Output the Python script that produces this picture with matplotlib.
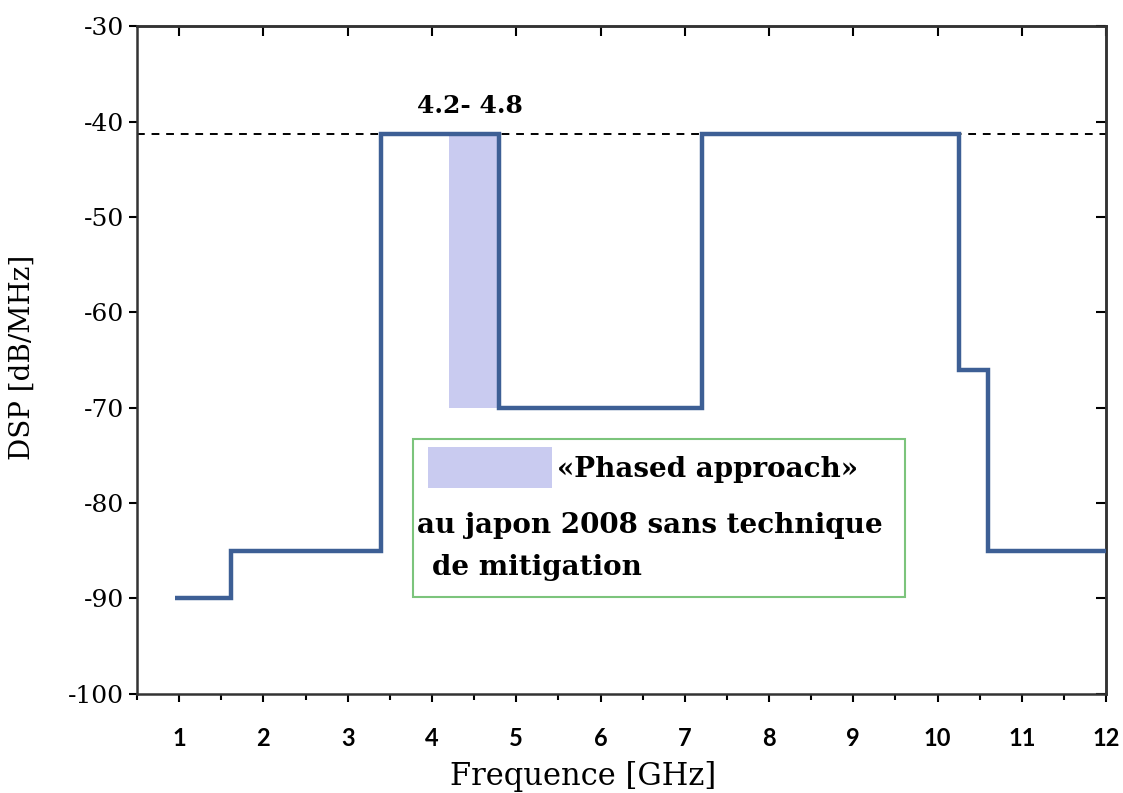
import numpy as np
import matplotlib.pyplot as plt
from matplotlib.patches import Rectangle
from matplotlib.ticker import MultipleLocator

plt.rcParams['axes.unicode_minus'] = False

# --- Spectral mask (Japan 2008, no mitigation) ---
edges = [0.95, 1.62, 3.4, 4.8, 7.2, 10.25, 10.6, 12.0]   # GHz
levels = [-90, -85, -41.3, -70, -41.3, -66, -85]         # dB/MHz
limit = -41.3

# --- "Phased approach" band ---
band = [4.2, 4.8]
band_levels = [-70, -41.3]
band_label = "4.2- 4.8"
legend_lines = ["\u00abPhased approach\u00bb", "au japon 2008 sans technique", "de mitigation"]

xticks = list(range(1, 13))
yticks = list(range(-100, -29, 10))

fig = plt.figure(figsize=(11.23, 7.93), dpi=100)
ax = fig.add_axes([0.122, 0.125, 0.863, 0.842])

line_col = '#3d5f95'
band_col = '#c9cbf0'
serif = 'DejaVu Serif'

ax.fill_between(band, band_levels[0], band_levels[1], color=band_col, lw=0, zorder=1)
ax.axhline(limit, color='black', ls=(0, (4, 3.5)), lw=1.4, zorder=2)
ax.stairs(levels, edges, baseline=None, color=line_col, lw=3.2, zorder=3)

ax.text(4.45, -38.4, band_label, ha='center', va='center',
        fontsize=18, fontweight='bold', family=serif)

# --- legend box ---
ax.add_patch(Rectangle((3.77, -89.8), 9.61 - 3.77, 16.5, facecolor='white',
                       edgecolor='#7cc47c', lw=1.5, zorder=4))
ax.add_patch(Rectangle((3.95, -78.4), 1.47, 4.3, facecolor=band_col, lw=0, zorder=5))
ax.text(5.48, -76.5, legend_lines[0], ha='left', va='center', fontsize=20,
        fontweight='bold', family=serif, zorder=6)
ax.text(3.82, -82.3, legend_lines[1], ha='left', va='center', fontsize=20,
        fontweight='bold', family=serif, zorder=6)
ax.text(4.0, -86.8, legend_lines[2], ha='left', va='center', fontsize=20,
        fontweight='bold', family=serif, zorder=6)

ax.set_xlim(0.5, 12.0)
ax.set_ylim(-100, -30)
ax.set_xticks(xticks)
ax.set_yticks(yticks)
ax.xaxis.set_minor_locator(MultipleLocator(0.5))

ax.tick_params(axis='x', which='both', direction='out', length=6, width=1.5, pad=18)
ax.tick_params(axis='x', which='minor', length=4)
ax.tick_params(axis='y', direction='out', length=6, width=1.5)
for lbl in ax.get_xticklabels():
    lbl.set_fontfamily('Lato')
    lbl.set_fontweight('bold')
    lbl.set_fontsize(17)
for lbl in ax.get_yticklabels():
    lbl.set_fontfamily(serif)
    lbl.set_fontsize(18)

# inward ticks on top and right
top = ax.secondary_xaxis('top')
top.set_xticks(xticks)
top.tick_params(direction='in', length=7, width=1.5, labeltop=False)
right = ax.secondary_yaxis('right')
right.set_yticks(yticks)
right.tick_params(direction='in', length=7, width=1.5, labelright=False)

for a in (ax, top, right):
    for s in a.spines.values():
        s.set_linewidth(1.8)
        s.set_color('#333333')

fig.text(583 / 1123, 1 - 776 / 793, "Frequence [GHz]", ha='center', va='center',
         fontsize=22, family=serif)
fig.text(22 / 1123, 1 - 357 / 793, "DSP [dB/MHz]", ha='center', va='center',
         rotation=90, fontsize=20, family=serif)

fig.savefig('out.png', dpi=100)
